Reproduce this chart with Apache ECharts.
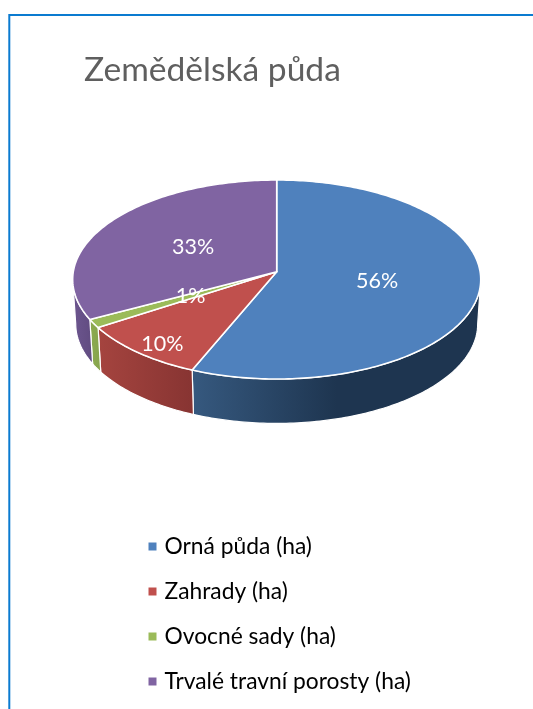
<!DOCTYPE html>
<html lang="cs">
<head>
    <meta charset="UTF-8">
    <title>Zemědělská půda</title>
    <script src="https://cdn.jsdelivr.net/npm/echarts@6/dist/echarts.min.js"></script>
    <style>
        html, body { margin: 0; padding: 0; background: #fff; }
        #main { width: 533px; height: 709px; }
    </style>
</head>
<body>
    <div id="main"></div>
    <script>
        var titleText = 'Zemědělská půda';
        var categories = ['Orná půda (ha)', 'Zahrady (ha)', 'Ovocné sady (ha)', 'Trvalé travní porosty (ha)'];
        // shares in percent
        var values = [56.3, 9.6, 1.4, 32.7];

        var topColors = ['#4f81bd', '#c0504d', '#9bbb59', '#8064a2'];
        var wallLeft = ['#36597f', '#a5443f', '#8cab50', '#6d568f'];
        var wallRight = ['#1e3550', '#873432', '#86a34c', '#604b80'];
        // where each label sits inside its slice
        var labelRadius = [0.5, 0.87, 0.48, 0.49];
        var labelTurn = [0, -2.3, 0, 0];

        // tilted disc: a circle seen in perspective
        var cx = 276.7, cy = 271.7, a = 203.4, b = 98.9, k = 0.0784, depth = 44.4;
        var total = values.reduce(function (s, v) { return s + v; }, 0);

        function project(deg, r, drop, scale) {
            var t = deg * Math.PI / 180;
            var x = r * Math.sin(t), y = -r * Math.cos(t);
            var w = 1 - k * y;
            return [cx + a * scale * x / w, cy + drop + b * y / w];
        }

        function sliceRange(i) {
            var before = values.slice(0, i).reduce(function (s, v) { return s + v; }, 0);
            return [before / total * 360, (before + values[i]) / total * 360];
        }

        function renderTop(params) {
            var i = params.seriesIndex - categories.length;
            var range = sliceRange(i);
            var pts = [[cx, cy]];
            for (var d = range[0]; d < range[1]; d += 1) pts.push(project(d, 1, 0, 1));
            pts.push(project(range[1], 1, 0, 1));
            var mid = (range[0] + range[1]) / 2 + labelTurn[i];
            var lp = project(mid, labelRadius[i], 0, 1);
            return {
                type: 'group',
                children: [{
                    type: 'polygon',
                    shape: { points: pts },
                    style: { fill: topColors[i], stroke: '#fff', lineWidth: 1.6, lineJoin: 'round' }
                }, {
                    type: 'text',
                    z2: 10,
                    x: lp[0],
                    y: lp[1],
                    style: {
                        text: Math.round(values[i]) + '%',
                        fill: '#fff',
                        font: '21.5px Lato',
                        align: 'center',
                        verticalAlign: 'middle'
                    }
                }]
            };
        }

        function renderWall(params) {
            var i = params.seriesIndex;
            var range = sliceRange(i);
            // only the part of the rim that faces the viewer
            var from = Math.max(range[0], 94.5), to = Math.min(range[1], 265.5);
            if (from >= to) return null;
            var upper = [], lower = [];
            for (var d = from; d < to; d += 1) {
                upper.push(project(d, 1, 0, 1));
                lower.unshift(project(d, 1, depth, 0.985));
            }
            upper.push(project(to, 1, 0, 1));
            lower.unshift(project(to, 1, depth, 0.985));
            return {
                type: 'polygon',
                shape: { points: upper.concat(lower) },
                style: {
                    fill: {
                        type: 'linear', x: 0, y: 0, x2: 1, y2: 0,
                        colorStops: i === 0
                            ? [{ offset: 0, color: wallLeft[i] }, { offset: 0.5, color: wallRight[i] }, { offset: 1, color: wallRight[i] }]
                            : [{ offset: 0, color: wallLeft[i] }, { offset: 1, color: wallRight[i] }]
                    },
                    stroke: '#fff',
                    lineWidth: 1.2
                }
            };
        }

        function makeSeries(render, z) {
            return categories.map(function (name, i) {
                return {
                    type: 'custom',
                    name: name,
                    coordinateSystem: 'none',
                    z: z,
                    silent: true,
                    clip: false,
                    itemStyle: { color: topColors[i] },
                    renderItem: render,
                    data: [values[i]]
                };
            });
        }

        var myChart = echarts.init(document.getElementById('main'), null, { renderer: 'canvas' });
        myChart.setOption({
            animation: false,
            backgroundColor: '#fff',
            title: {
                text: titleText,
                left: 84,
                top: 53,
                padding: 0,
                textStyle: { color: '#5f5f5f', fontSize: 33.6, fontWeight: 'normal', fontFamily: 'Lato' }
            },
            legend: {
                orient: 'vertical',
                left: 148.5,
                top: 535,
                padding: 0,
                itemGap: 22,
                itemWidth: 8,
                itemHeight: 8,
                icon: 'rect',
                data: categories,
                selectedMode: false,
                textStyle: { color: '#000', fontSize: 22.8, fontFamily: 'Lato', padding: [0, 0, 0, 3], lineHeight: 23 }
            },
            graphic: [{
                type: 'polyline',
                silent: true,
                shape: { points: [[533, 15], [9.3, 15], [9.3, 709]] },
                style: { stroke: '#0a7bd0', lineWidth: 2, fill: null }
            }],
            series: makeSeries(renderWall, 1).concat(makeSeries(renderTop, 2))
        });
    </script>
</body>
</html>
